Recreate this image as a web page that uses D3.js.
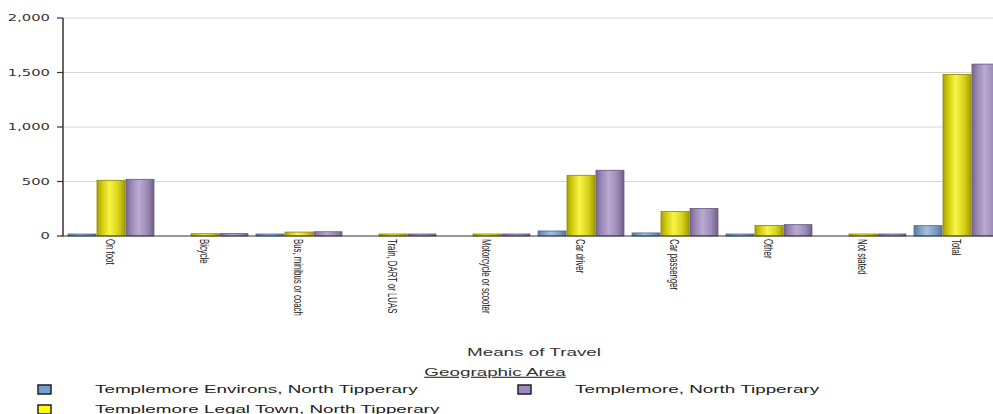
<!DOCTYPE html>
<html><head><meta charset="utf-8">
<script src="https://cdn.jsdelivr.net/npm/d3@7"></script>
<style>
html,body{margin:0;padding:0;background:#fff;overflow:hidden;}
svg{display:block;}
</style></head>
<body>
<script>
const categories = ["On foot","Bicycle","Bus, minibus or coach","Train, DART or LUAS","Motorcycle or scooter","Car driver","Car passenger","Other","Not stated","Total"];
const seriesNames = ["Templemore Environs, North Tipperary","Templemore Legal Town, North Tipperary","Templemore, North Tipperary"];
const environs  = [9, 0, 3, 0, 0, 46, 28, 8, 0, 95];
const legalTown = [511, 21, 36, 16, 6, 557, 224, 96, 15, 1482];
const templemore= [520, 22, 39, 16, 6, 603, 252, 104, 15, 1577];
const yTicks = [0, 500, 1000, 1500, 2000];
const xTitle = "Means of Travel";
const legendTitle = "Geographic Area";

const W = 993, H = 414;
const SX = 1.64;
const seriesValues = [environs, legalTown, templemore];
const colors = [
  {id:"gB", stops:["#58799f","#7b9cc2","#a3c0de","#7d9dc3","#56779d"], stroke:"#4a6a90", legend:"#74a0d4"},
  {id:"gY", stops:["#a9a300","#d4ce12","#f8f448","#d8d41c","#a29c00"], stroke:"#8c8600", legend:"#ffff00"},
  {id:"gP", stops:["#766690","#9b8ab6","#baaad2","#9d8cb8","#725f8c"], stroke:"#65567f", legend:"#9f88c6"}
];

const svg = d3.select("body").append("svg").attr("width", W).attr("height", H);
const defs = svg.append("defs");
colors.forEach(c => {
  const g = defs.append("linearGradient").attr("id", c.id).attr("x1","0").attr("x2","1").attr("y1","0").attr("y2","0");
  [0, 0.2, 0.45, 0.75, 1].forEach((o,i) => g.append("stop").attr("offset", o).attr("stop-color", c.stops[i]));
});

const x = d3.scaleBand().domain(categories).range([64, 1004]).paddingInner(0.075).paddingOuter(0.0375);
const xs = d3.scaleBand().domain(d3.range(3)).range([0, x.bandwidth()]);
const y = d3.scaleLinear().domain([0, 2000]).range([236, 18]);

// gridlines
svg.append("g").selectAll("line").data(yTicks.filter(d => d > 0)).join("line")
  .attr("x1", 63).attr("x2", W).attr("y1", d => y(d)).attr("y2", d => y(d))
  .attr("stroke", "#d6d6d6").attr("stroke-width", 1);

// bars
const groups = svg.append("g").selectAll("g").data(categories).join("g")
  .attr("transform", d => `translate(${x(d)},0)`);
groups.selectAll("rect").data((c, ci) => seriesValues.map((s, si) => ({si, v: s[ci]})).filter(d => d.v > 0))
  .join("rect")
  .attr("x", d => xs(d.si) + 0.5)
  .attr("width", xs.bandwidth() - 1)
  .attr("y", d => Math.min(y(d.v), 234))
  .attr("height", d => Math.max(236 - y(d.v), 2))
  .attr("fill", d => `url(#${colors[d.si].id})`)
  .attr("stroke", d => colors[d.si].stroke)
  .attr("stroke-width", 0.8);

// axes lines
svg.append("line").attr("x1", 63).attr("x2", W).attr("y1", 236).attr("y2", 236).attr("stroke", "#333").attr("stroke-width", 1.2);
svg.append("line").attr("x1", 63).attr("x2", 63).attr("y1", 18).attr("y2", 236.5).attr("stroke", "#333").attr("stroke-width", 1.5);
const yt = svg.append("g").selectAll("g").data(yTicks).join("g");
yt.append("line").attr("x1", 57).attr("x2", 63).attr("y1", d => y(d)).attr("y2", d => y(d)).attr("stroke", "#333").attr("stroke-width", 1.2);
yt.append("g").attr("transform", d => `translate(50,${y(d)}) scale(${SX},1)`)
  .append("text").attr("text-anchor", "end").attr("dy", "0.35em")
  .attr("font-family", "DejaVu Sans").attr("font-size", 9).attr("fill", "#333")
  .text(d => d3.format(",")(d));

// x labels (condensed along their length)
svg.append("g").selectAll("text").data(categories).join("text")
  .attr("transform", d => `translate(${x(d) + x.bandwidth()/2},239) rotate(90) scale(0.6,1)`)
  .attr("dy", "0.35em")
  .attr("font-family", "Liberation Sans, Arial").attr("font-size", 13).attr("fill", "#222")
  .text(d => d);

// x title
svg.append("g").attr("transform", `translate(534,356) scale(${SX},1)`)
  .append("text").attr("text-anchor", "middle")
  .attr("font-family", "Liberation Sans, Arial").attr("font-size", 11.5).attr("fill", "#333")
  .text(xTitle);

// legend title
svg.append("g").attr("transform", `translate(495,376) scale(${SX},1)`)
  .append("text").attr("text-anchor", "middle").attr("text-decoration", "underline")
  .attr("font-family", "Liberation Sans, Arial").attr("font-size", 11.5).attr("fill", "#333")
  .text(legendTitle);

// legend items
const leg = svg.append("g").selectAll("g").data(seriesNames).join("g")
  .attr("transform", (d, i) => `translate(${38 + Math.floor(i/2)*480},${385 + (i%2)*20})`);
leg.append("rect").attr("x", 0).attr("y", 0).attr("width", 13).attr("height", 9)
  .attr("fill", (d, i) => colors[i].legend).attr("stroke", "#222").attr("stroke-width", 1.5);
leg.append("g").attr("transform", `translate(57,8) scale(${SX},1)`)
  .append("text")
  .attr("font-family", "Liberation Sans, Arial").attr("font-size", 11.5).attr("fill", "#222")
  .text(d => d);
</script>
</body></html>
